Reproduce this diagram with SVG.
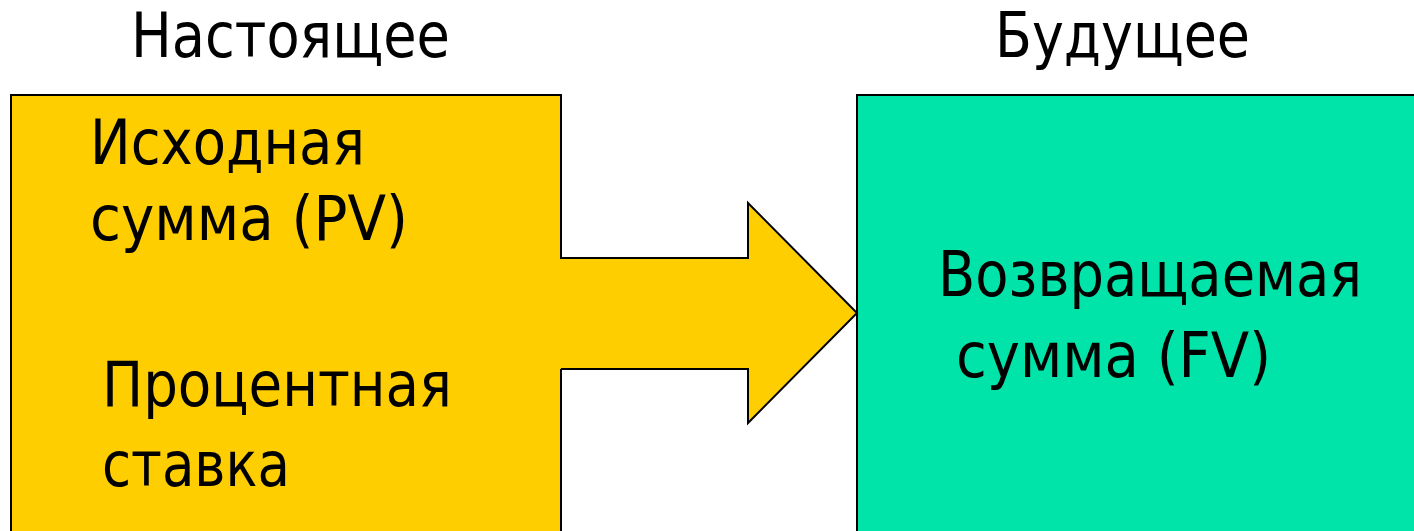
<svg xmlns="http://www.w3.org/2000/svg" width="1414" height="531" viewBox="0 0 1414 531">
  <style>
    .lbl { font-family: "DejaVu Sans Condensed", "DejaVu Sans", "Liberation Sans", sans-serif; font-stretch: condensed; font-size: 62px; fill: #000; }
    .box { stroke: #000; stroke-width: 2; }
    .present { fill: #FFCE00; }
    .future { fill: #00E4A9; }
  </style>
  <rect width="1414" height="531" fill="#fff"/>

  <!-- time headings -->
  <g id="heading-present">
    <text class="lbl" x="131" y="57" textLength="319" lengthAdjust="spacingAndGlyphs">Настоящее</text>
  </g>
  <g id="heading-future">
    <text class="lbl" x="995" y="57" textLength="255" lengthAdjust="spacingAndGlyphs">Будущее</text>
  </g>

  <!-- present value block -->
  <g id="present-box">
    <rect class="box present" x="11" y="95" width="550" height="460"/>
    <text class="lbl" x="90" y="164" textLength="275" lengthAdjust="spacingAndGlyphs">Исходная</text>
    <text class="lbl" x="90" y="240" textLength="318" lengthAdjust="spacingAndGlyphs">сумма (PV)</text>
    <text class="lbl" x="102" y="406" textLength="350" lengthAdjust="spacingAndGlyphs">Процентная</text>
    <text class="lbl" x="102" y="486" textLength="188" lengthAdjust="spacingAndGlyphs">ставка</text>
  </g>

  <!-- future value block -->
  <g id="future-box">
    <rect class="box future" x="857" y="95" width="600" height="460"/>
    <text class="lbl" x="938" y="296" textLength="424" lengthAdjust="spacingAndGlyphs">Возвращаемая</text>
    <text class="lbl" x="956" y="377" textLength="315" lengthAdjust="spacingAndGlyphs">сумма (FV)</text>
  </g>

  <!-- block arrow joining the two blocks -->
  <g id="connectors">
    <polygon class="present" points="559,259 748,259 748,203 857,313 748,423 748,369 559,369"/>
    <path d="M561,258 H748 V203 L857,313 L748,423 V369 H561" fill="none" stroke="#000" stroke-width="2" stroke-linejoin="miter"/>
  </g>
</svg>
